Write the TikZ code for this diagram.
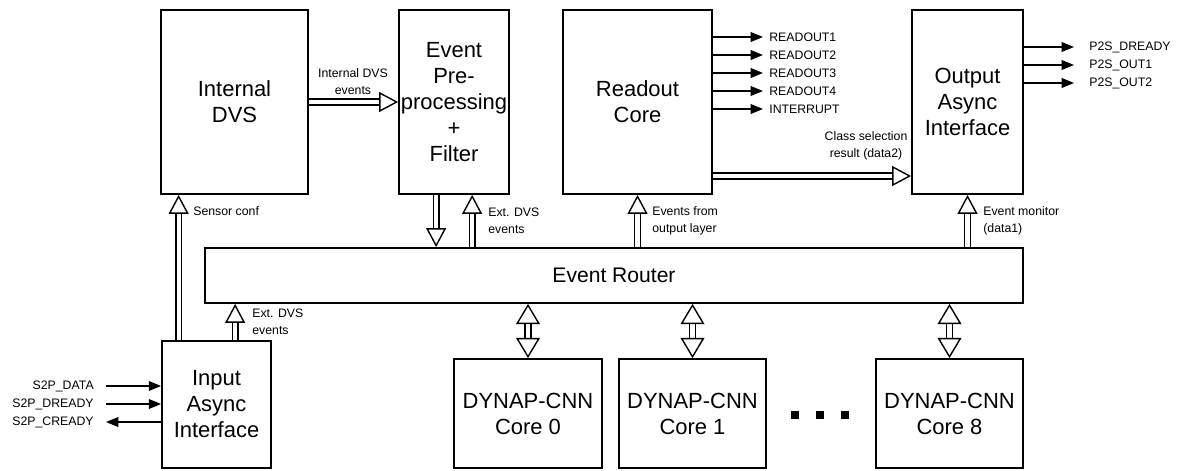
\documentclass[tikz,border=0pt]{standalone}
\usepackage{fontspec}
\setmainfont{Liberation Sans}
\usetikzlibrary{arrows.meta,calc,positioning}

\begin{document}
\begin{tikzpicture}[x=0.02cm,y=-0.02cm,
    blk/.style={draw,line width=1pt,align=center,inner sep=0pt,font=\fontsize{12.5}{14.8}\selectfont},
    tall/.style={blk,minimum height=3.68cm},
    core/.style={blk,minimum width=2.95cm,minimum height=2.18cm},
    lbl/.style={inner sep=0pt,align=left,font=\fontsize{7}{9.6}\selectfont},
    sig/.style={line width=0.8pt,-{Triangle[length=7pt,width=5.5pt]}},
    hollow/.style={double,double distance=2.4pt,line width=0.8pt,
      -{Triangle[open,length=10.8pt,width=11.3pt,line width=0.8pt]}},
    bihollow/.style={double,double distance=2.4pt,line width=0.8pt,
      {Triangle[open,length=11.5pt,width=13.5pt,line width=0.8pt]}-{Triangle[open,length=11.5pt,width=13.5pt,line width=0.8pt]}}]
  \useasboundingbox (0,0) rectangle (1182,470);

  \node[tall,minimum width=2.94cm] (dvs) at (234.5,102) {Internal\\DVS};
  \node[tall,minimum width=2.2cm] (pre) at (454,102) {Event\\Pre-\\processing\\+\\Filter};
  \node[tall,minimum width=2.98cm] (ro) at (637.5,102) {Readout\\Core};
  \node[tall,minimum width=2.22cm] (oa) at (967.5,102) {Output\\Async\\Interface};
  \node[blk,minimum width=16.36cm,minimum height=1.1cm,font=\fontsize{12}{14}\selectfont] (router) at (614,275.5) {Event Router};
  \node[blk,minimum width=2.18cm,minimum height=2.54cm] (ia) at (216.5,404.5) {Input\\Async\\Interface};
  \foreach \n/\x in {0/528,1/692.5,8/949.5}
    \node[core] (c\n) at (\x,413.5) {DYNAP-CNN\\Core \n};
  \foreach \x in {795,820,845}
    \fill (\x-4,411) rectangle (\x+4,419);

  \foreach \t [count=\i] in {READOUT1,READOUT2,READOUT3,READOUT4,INTERRUPT} {
    \node[lbl,anchor=west,inner xsep=3.4pt] (r\i) at (763,19+18*\i) {\t};
    \draw[sig] (ro.east |- r\i) -- (r\i);
  }
  \foreach \t [count=\i] in {P2S\_DREADY,P2S\_OUT1,P2S\_OUT2} {
    \node[lbl,anchor=west,inner xsep=8.5pt] (p\i) at (1074,29+18*\i) {\t};
    \draw[sig] (oa.east |- p\i) -- (p\i);
  }
  \foreach \t [count=\i] in {S2P\_DATA,S2P\_DREADY,S2P\_CREADY}
    \node[lbl,anchor=east,inner xsep=6.8pt] (s\i) at (106,368+18*\i) {\t};
  \draw[sig] (s1) -- (ia.west |- s1);
  \draw[sig] (s2) -- (ia.west |- s2);
  \draw[sig] (ia.west |- s3) -- (s3);

  \draw[hollow] (dvs.east) -- (pre.west);
  \draw[hollow] ($(ro.east)+(0,74)$) -- ($(oa.west)+(0,74)$);

  \coordinate (sc) at ($(ia.north west)+(17.5,0)$);
  \coordinate (xi) at ($(ia.north west)+(74,0)$);
  \coordinate (pd) at ($(pre.south west)+(38,0)$);
  \coordinate (pu) at ($(pre.south west)+(74,0)$);
  \draw[hollow] (sc) -- (sc |- dvs.south);
  \draw[hollow] (xi) -- (xi |- router.south);
  \draw[hollow] (pd) -- (pd |- router.north);
  \draw[hollow] (pu |- router.north) -- (pu);
  \draw[hollow] (router.north -| ro.south) -- (ro.south);
  \draw[hollow] (router.north -| oa.south) -- (oa.south);
  \foreach \n in {0,1,8}
    \draw[bihollow] (router.south -| c\n.north) -- (c\n.north);

  \node[lbl,align=center] (idvs) at (353,81.5) {Internal DVS\\events};
  \node[lbl,align=center] (csel) at (866,145.5) {Class selection\\result (data2)};
  \node[lbl,anchor=west] (sconf) at (193,211) {Sensor conf};
  \node[lbl,anchor=west] (extp) at (488,220.5) {Ext. DVS\\events};
  \node[lbl,anchor=west] (efol) at (652,220.5) {Events from\\output layer};
  \node[lbl,anchor=west] (emon) at (983,221) {Event monitor\\(data1)};
  \node[lbl,anchor=west] (exti) at (252,322) {Ext. DVS\\events};
\end{tikzpicture}
\end{document}
